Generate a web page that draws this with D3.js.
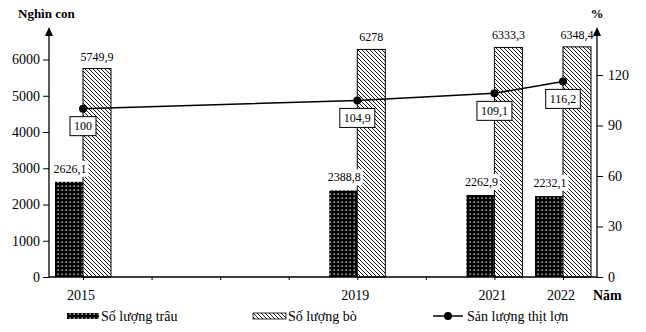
<!DOCTYPE html>
<html><head><meta charset="utf-8">
<script src="https://cdn.jsdelivr.net/npm/d3@7"></script>
<style>
html,body{margin:0;padding:0;background:#fff;}
text{font-family:"Liberation Serif","Times New Roman",serif;fill:#000;}
</style></head>
<body><svg id="c" width="646" height="332"></svg>
<script>
const years = [2015, 2019, 2021, 2022];
const trau = [2626.1, 2388.8, 2262.9, 2232.1];
const bo = [5749.9, 6278, 6333.3, 6348.4];
const thitLon = [100, 104.9, 109.1, 116.2];
const leftTicks = [0, 1000, 2000, 3000, 4000, 5000, 6000];
const rightTicks = [0, 30, 60, 90, 120];
const tickYears = [2015, 2016, 2017, 2018, 2019, 2020, 2021, 2022];
const legendLabels = ["Số lượng trâu", "Số lượng bò", "Sản lượng thịt lợn"];

const fmt = v => String(v).replace(".", ",");

const svg = d3.select("#c");
const defs = svg.append("defs");
const pd = defs.append("pattern").attr("id","dots").attr("patternUnits","userSpaceOnUse")
  .attr("width",4).attr("height",4);
pd.append("rect").attr("width",4).attr("height",4).attr("fill","#000");
pd.append("rect").attr("x",1.5).attr("y",1.5).attr("width",1.3).attr("height",1.3).attr("fill","#fff");
const ph = defs.append("pattern").attr("id","hatch").attr("patternUnits","userSpaceOnUse")
  .attr("width",4).attr("height",4);
ph.append("rect").attr("width",4).attr("height",4).attr("fill","#fff");
ph.append("path").attr("d","M-1,-1L5,5M3,-1L5,1M-1,3L1,5").attr("stroke","#000").attr("stroke-width",0.9);

const x0 = 49, x1 = 597, yBase = 277;
const x = d3.scaleLinear().domain([2015, 2022]).range([83, 563]);
const yL = d3.scaleLinear().domain([0, 6000]).range([yBase, 59.5]);
const yR = d3.scaleLinear().domain([0, 120]).range([yBase, 75]);
const bw = 28;

// bars
years.forEach((yr, i) => {
  const cx = x(yr);
  svg.append("rect").attr("x", cx - bw).attr("y", yL(trau[i])).attr("width", bw)
    .attr("height", yBase - yL(trau[i])).attr("fill", "url(#dots)");
  svg.append("rect").attr("x", cx).attr("y", yL(bo[i])).attr("width", bw)
    .attr("height", yBase - yL(bo[i])).attr("fill", "url(#hatch)")
    .attr("stroke", "#000").attr("stroke-width", 1);
});

// axes
const axL = svg.append("g").attr("transform", `translate(${x0},0)`)
  .call(d3.axisLeft(yL).tickValues(leftTicks).tickSize(6).tickPadding(3).tickFormat(d3.format("d")));
const axR = svg.append("g").attr("transform", `translate(${x1},0)`)
  .call(d3.axisRight(yR).tickValues(rightTicks).tickSize(6).tickPadding(5).tickFormat(d3.format("d")));
[axL, axR].forEach(a => {
  a.select(".domain").remove();
  a.selectAll("text").attr("font-family", "Liberation Serif").attr("font-size", 14);
  a.selectAll("line").attr("stroke", "#000");
});
// vertical axes with arrows
[x0, x1].forEach(ax => {
  svg.append("line").attr("x1", ax).attr("x2", ax).attr("y1", yBase).attr("y2", 32)
    .attr("stroke", "#000").attr("stroke-width", 1.3);
  svg.append("path").attr("d", `M${ax},27L${ax-4},36L${ax+4},36Z`).attr("fill", "#000");
});
// x axis
const axX = svg.append("g").attr("transform", `translate(0,${yBase})`)
  .call(d3.axisBottom(x).tickValues(tickYears).tickSize(3).tickFormat(""));
axX.select(".domain").remove();
axX.selectAll("line").attr("stroke", "#000");
svg.append("line").attr("x1", x0).attr("x2", x1).attr("y1", yBase).attr("y2", yBase)
  .attr("stroke", "#000").attr("stroke-width", 1.5);
svg.selectAll(".yl").data(years).enter().append("text")
  .attr("x", d => x(d) - 2).attr("y", 300).attr("text-anchor", "middle")
  .attr("font-size", 14).text(d => d);

// titles
svg.append("text").attr("x", 18).attr("y", 18).attr("font-weight", "bold").attr("font-size", 13).text("Nghìn con");
svg.append("text").attr("x", 597).attr("y", 18).attr("text-anchor", "middle").attr("font-weight", "bold").attr("font-size", 13).text("%");
svg.append("text").attr("x", 593).attr("y", 300).attr("font-weight", "bold").attr("font-size", 14).text("Năm");

// bar value labels
years.forEach((yr, i) => {
  const cx = x(yr);
  // bo labels
  svg.append("text").attr("x", cx + bw / 2).attr("y", yL(bo[i]) - 8).attr("text-anchor", "middle")
    .attr("font-size", 12).text(fmt(bo[i]));
  // trau labels with white background
  const ty = yL(trau[i]) - 13;
  const t = svg.append("text").attr("x", cx - bw / 2 + 1).attr("y", ty + 4).attr("text-anchor", "middle")
    .attr("font-size", 12).text(fmt(trau[i]));
  const bb = t.node().getBBox();
  svg.insert("rect", () => t.node()).attr("x", bb.x - 2).attr("y", bb.y - 1)
    .attr("width", bb.width + 4).attr("height", bb.height + 2).attr("fill", "#fff");
});

// line
const line = d3.line().x((d, i) => x(years[i])).y(d => yR(d));
svg.append("path").datum(thitLon).attr("d", line).attr("fill", "none")
  .attr("stroke", "#000").attr("stroke-width", 1.5);
svg.selectAll(".pt").data(thitLon).enter().append("circle")
  .attr("cx", (d, i) => x(years[i])).attr("cy", d => yR(d)).attr("r", 4).attr("fill", "#000");
thitLon.forEach((v, i) => {
  const cx = x(years[i]), cy = yR(v) + 17.5;
  const g = svg.append("g");
  const t = g.append("text").attr("x", cx).attr("y", cy + 4).attr("text-anchor", "middle")
    .attr("font-size", 12).text(fmt(v));
  const w = t.node().getBBox().width + 8;
  g.insert("rect", "text").attr("x", cx - w / 2).attr("y", cy - 9.5).attr("width", w).attr("height", 19)
    .attr("fill", "#fff").attr("stroke", "#000").attr("stroke-width", 1);
});

// legend
const lg = svg.append("g");
lg.append("rect").attr("x", 67).attr("y", 313).attr("width", 32).attr("height", 6).attr("fill", "url(#dots)");
lg.append("text").attr("x", 101).attr("y", 321).attr("font-size", 14).text(legendLabels[0]);
lg.append("rect").attr("x", 253).attr("y", 313).attr("width", 33).attr("height", 6).attr("fill", "url(#hatch)").attr("stroke", "#000").attr("stroke-width", 0.8);
lg.append("text").attr("x", 288).attr("y", 321).attr("font-size", 14).text(legendLabels[1]);
lg.append("line").attr("x1", 433).attr("x2", 463).attr("y1", 316).attr("y2", 316).attr("stroke", "#000").attr("stroke-width", 1.5);
lg.append("circle").attr("cx", 448).attr("cy", 316).attr("r", 4).attr("fill", "#000");
lg.append("text").attr("x", 467).attr("y", 321).attr("font-size", 14).text(legendLabels[2]);
</script></body></html>
